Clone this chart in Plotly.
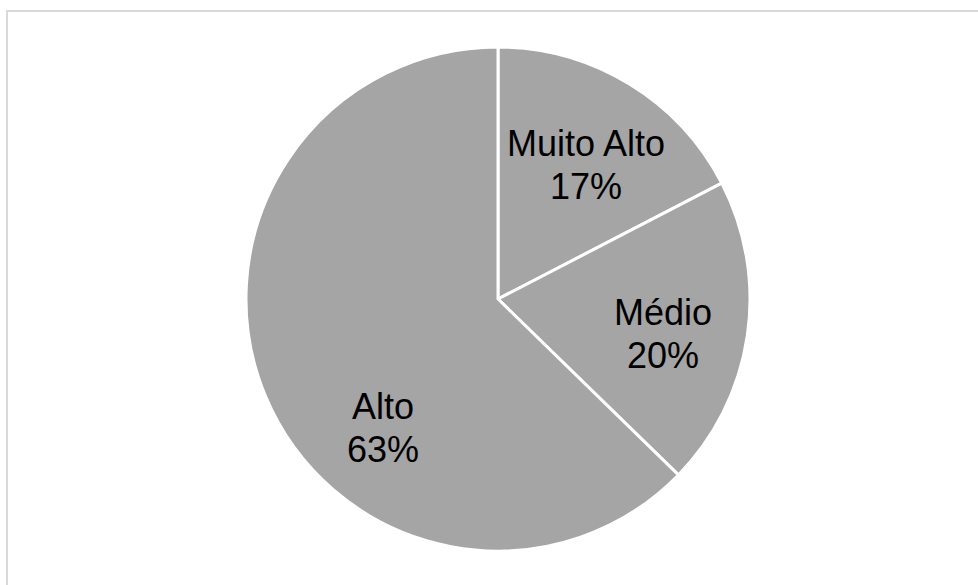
import math
import plotly.graph_objects as go

# Share of responses by level
categories = ["Muito Alto", "Médio", "Alto"]
shares = [17.4, 19.9, 62.7]

W, H = 978, 585
cx, cy, r = 498, 299, 252

# Label placement per slice: angular shift from the slice midpoint (deg)
# and distance from the centre as a fraction of the radius
label_shift = [2.0, 3.5, -25.3]
label_radius = [0.636, 0.669, 0.687]
line_gap = 43  # px between the two lines of a label

font = dict(family="Liberation Sans, Arial, sans-serif", size=36, color="#000000")

fig = go.Figure(
    go.Pie(
        labels=categories,
        values=shares,
        sort=False,
        direction="clockwise",
        rotation=0,
        textinfo="none",
        marker=dict(colors=["#a5a5a5"] * len(shares), line=dict(color="#ffffff", width=3)),
        showlegend=False,
        hoverinfo="label+percent",
        domain=dict(
            x=[(cx - r) / W, (cx + r) / W],
            y=[1 - (cy + r) / H, 1 - (cy - r) / H],
        ),
    )
)

# Category name and percentage, placed inside each slice
total = sum(shares)
annotations = []
start = 0.0
for name, value, shift, rf in zip(categories, shares, label_shift, label_radius):
    frac = value / total
    mid = (start + frac / 2) * 360 + shift
    start += frac
    theta = math.radians(mid)
    px = cx + rf * r * math.sin(theta)
    py = cy - rf * r * math.cos(theta)
    for txt, ys in ((name, line_gap / 2), (f"{frac * 100:.0f}%", -line_gap / 2)):
        annotations.append(
            dict(
                text=txt,
                x=px / W,
                y=1 - py / H,
                xref="paper",
                yref="paper",
                xanchor="center",
                yanchor="middle",
                yshift=ys,
                showarrow=False,
                font=font,
            )
        )

fig.update_layout(
    width=W,
    height=H,
    margin=dict(l=0, r=0, t=0, b=0),
    paper_bgcolor="#ffffff",
    plot_bgcolor="#ffffff",
    annotations=annotations,
    shapes=[
        dict(
            type="rect",
            xref="paper",
            yref="paper",
            x0=7 / W,
            x1=1.1,
            y0=-0.1,
            y1=1 - 11 / H,
            line=dict(color="#d9d9d9", width=2),
            fillcolor="rgba(0,0,0,0)",
            layer="below",
        )
    ],
)

fig.write_html("out.html")
